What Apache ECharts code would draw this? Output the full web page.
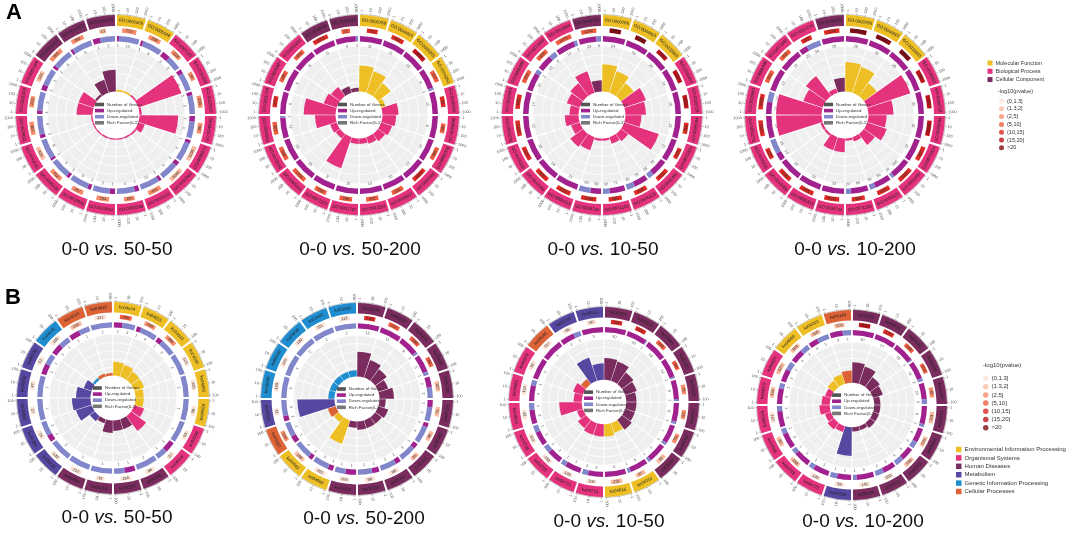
<!DOCTYPE html>
<html>
<head>
<meta charset="utf-8">
<script src="https://cdn.jsdelivr.net/npm/echarts@6/dist/echarts.min.js"></script>
<style>
  html, body { margin: 0; padding: 0; background: #fff; }
  #chart { width: 1072px; height: 534px; }
</style>
</head>
<body>
<div id="chart"></div>
<script>
// ---------- data ----------
const A_CLASSES = ['Molecular Function', 'Biological Process', 'Cellular Component'];
const B_CLASSES = ['Environmental Information Processing', 'Organismal Systems', 'Human Diseases',
  'Metabolism', 'Genetic Information Processing', 'Cellular Processes'];
const PVALUE_BINS = ['(0,1.3]', '(1.3,2]', '(2,5]', '(5,10]', '(10,15]', '(15,20]', '>20'];
const A_TICKS = ['1', '10', '100', '1000'];
const B_TICKS = ['1', '10', '100'];
const CENTER_LEGEND = ['Number of Genes', 'Up-regulated', 'Down-regulated', 'Rich Factor(0-1)'];

// A1: 0-0 vs. 50-50 (GO)
const A1_IDS = ['GO:0005509','GO:0005539','GO:0007155','GO:0030198','GO:0022610','GO:0043062','GO:0030574','GO:0032963','GO:0001501','GO:0060348','GO:0010631','GO:0010035','GO:0006132','GO:0042060','GO:0009611','GO:0001503','GO:0007160','GO:0031012','GO:0044420','GO:0005578'];
const A1_CLASS = [0,0,1,1,1,1,1,1,1,1,1,1,1,1,1,1,1,2,2,2];
const A1_BG = [723,298,128,36,235,96,1295,1049,444,106,294,257,412,416,367,133,122,960,392,13];
const A1_PV = [2,2,2,2,2,2,1,1,2,2,2,2,2,1,2,2,1,2,2,1];
const A1_UP = [1,1,3,1,1,1,1,1,2,1,1,1,1,1,1,1,1,1,1,1];
const A1_DOWN = [10,8,5,4,5,3,6,4,12,4,3,5,6,8,5,5,3,6,8,2];
const A1_RICH = [0.04,0.04,0.04,1.0,0.05,0.85,0.15,0.04,0.03,0.03,0.03,0.03,0.03,0.03,0.03,0.35,0.35,0.05,0.3,0.48];

// A2: 0-0 vs. 50-200 (GO)
const A2_IDS = ['GO:0005788','GO:0044815','GO:0005201','GO:0004252','GO:0006955','GO:0050896','GO:0002376','GO:0006952','GO:0009607','GO:0043207','GO:0051707','GO:0071103','GO:0065004','GO:0002684','GO:0006954','GO:0051704','GO:0045087','GO:0002682','GO:0048046','GO:0005615'];
const A2_CLASS = [0,0,0,0,1,1,1,1,1,1,1,1,1,1,1,1,1,1,2,2];
const A2_BG = [111,336,869,207,95,58,385,1063,236,242,299,259,1455,596,301,127,180,186,1573,32];
const A2_PV = [4,4,5,3,4,3,3,4,3,3,3,3,3,3,3,4,3,3,4,3];
const A2_UP = [11,11,10,9,10,8,10,12,10,10,10,8,10,10,12,6,9,8,11,9];
const A2_DOWN = [0,0,0,1,0,0,0,0,0,0,0,0,0,0,1,0,0,0,0,1];
const A2_RICH = [0.57,0.5,0.35,0.1,0.35,0.3,0.25,0.2,0.15,0.12,0.12,0.72,0.12,0.15,0.45,0.7,0.3,0.25,0.15,0.08];

// A3: 0-0 vs. 10-50 (GO)
const A3_IDS = ['GO:0000786','GO:0044815','GO:0032993','GO:0006334','GO:0034728','GO:0065004','GO:0071824','GO:0031497','GO:0006323','GO:0071103','GO:0034724','GO:0006333','GO:0043486','GO:0006325','GO:0051276','GO:0016043','GO:0006996','GO:0071840','GO:0050896','GO:0048592'];
const A3_CLASS = [0,0,0,1,1,1,1,1,1,1,1,1,1,1,1,1,1,1,1,2];
const A3_BG = [151,136,238,412,412,118,126,520,418,396,1256,1031,845,630,1455,820,452,318,2470,1262];
const A3_PV = [6,6,5,5,5,4,4,4,4,4,4,4,4,4,4,4,3,3,3,3];
const A3_UP = [24,24,26,14,16,12,13,76,79,71,58,21,14,16,12,14,13,13,12,23];
const A3_DOWN = [0,0,0,0,0,0,0,25,45,30,63,0,0,0,0,0,3,6,2,6];
const A3_RICH = [0.6,0.5,0.35,0.5,0.45,0.35,0.8,0.2,0.15,0.05,0.05,0.3,0.35,0.2,0.3,0.2,0.3,0.35,0.5,0.25];

// A4: 0-0 vs. 10-200 (GO)
const A4_IDS = ['GO:0000786','GO:0044815','GO:0032993','GO:0006334','GO:0034728','GO:0065004','GO:0071824','GO:0031497','GO:0006323','GO:0071103','GO:0034724','GO:0006333','GO:0043486','GO:0006325','GO:0051276','GO:0016043','GO:0006996','GO:0071840','GO:0051704','GO:0048592'];
const A4_CLASS = [0,0,0,1,1,1,1,1,1,1,1,1,1,1,1,1,1,1,1,2];
const A4_BG = [2470,1575,320,386,412,1256,860,1455,420,395,1031,845,630,120,1620,1430,352,311,126,1262];
const A4_PV = [6,6,6,5,5,5,4,4,4,4,4,4,4,4,4,4,3,3,4,4];
const A4_UP = [28,26,29,22,20,16,18,100,90,69,22,23,18,14,14,12,12,72,20,28];
const A4_DOWN = [0,0,0,0,0,0,0,14,30,20,0,0,0,25,0,10,0,0,34,0];
const A4_RICH = [0.65,0.6,0.35,1.0,0.55,0.4,0.45,0.3,0.1,0.05,0.3,0.3,0.05,0.05,1.0,1.0,0.45,0.55,0.1,0.3];

// B1: 0-0 vs. 50-50 (KEGG)
const B1_IDS = ['ko04514','ko04015','ko04010','ko04080','ko04060','ko04020','ko04530','ko04974','ko05200','ko05224','ko05219','ko05205','ko00230','ko00260','ko00480','ko00330','ko00190','ko04141','ko04510','ko04810'];
const B1_CLASS = [0,0,0,0,0,0,1,1,2,2,2,2,3,3,3,3,3,4,5,5];
const B1_BG = [250,208,306,121,135,96,93,37,96,156,42,212,133,75,27,47,51,180,235,221];
const B1_PV = [3,2,2,0,0,0,0,0,0,0,0,0,0,0,0,0,0,0,1,0];
const B1_UP = [2,1,1,0,0,0,0,1,0,1,0,0,0,1,0,0,1,1,1,0];
const B1_DOWN = [3,4,3,2,2,1,1,1,2,1,1,2,2,2,1,1,1,1,1,2];
const B1_RICH = [0.33,0.3,0.25,0.25,0.2,0.2,0.25,0.45,0.25,0.25,0.3,0.1,0.15,0.4,0.45,0.35,0.2,0.06,0.08,0.06];

// B2: 0-0 vs. 50-200 (KEGG)
const B2_IDS = ['ko05206','ko05202','ko05203','ko05168','ko05166','ko05165','ko05162','ko05161','ko05160','ko05146','ko05100','ko04060','ko04062','ko04110','ko00240','ko03030','ko03410','ko03430','ko03460','ko03440'];
const B2_CLASS = [2,2,2,2,2,2,2,2,2,2,2,0,0,5,3,4,4,4,4,4];
const B2_BG = [160,212,188,90,100,75,96,36,98,99,106,201,196,130,11,109,120,130,111,113];
const B2_PV = [4,3,3,3,1,1,1,1,0,0,0,0,1,2,0,0,0,0,0,0];
const B2_UP = [12,11,9,5,2,1,1,1,1,1,1,1,1,1,1,0,0,0,0,0];
const B2_DOWN = [0,0,1,1,2,2,4,3,3,2,1,3,4,2,3,3,3,2,2,2];
const B2_RICH = [0.6,0.45,0.35,0.25,0.35,0.15,0.25,0.2,0.2,0.2,0.15,0.6,0.15,0.2,0.9,0.15,0.15,0.15,0.15,0.15];

// B3: 0-0 vs. 10-50 (KEGG)
const B3_IDS = ['ko05034','ko05033','ko05031','ko05030','ko05022','ko05017','ko05016','ko05014','ko04010','ko04015','ko04713','ko04723','ko04725','ko04728','ko04921','ko04925','ko04970','ko04140','ko00230','ko00511'];
const B3_CLASS = [2,2,2,2,2,2,2,2,0,0,1,1,1,1,1,1,1,5,3,3];
const B3_BG = [186,161,142,68,76,52,73,95,97,236,106,135,133,101,81,132,92,117,65,80];
const B3_PV = [4,4,3,3,2,2,2,1,1,1,0,0,0,0,0,0,0,0,0,0];
const B3_UP = [20,20,14,12,9,8,7,7,6,6,5,3,2,2,2,3,2,1,2,3];
const B3_DOWN = [0,1,0,1,1,1,1,1,1,0,2,1,1,1,1,1,0,0,1,0];
const B3_RICH = [0.53,0.5,0.35,0.3,0.25,0.25,0.25,0.3,0.25,0.3,0.3,0.3,0.25,0.15,0.55,0.2,0.25,0.15,0.6,0.4];

// B4: 0-0 vs. 10-200 (KEGG)
const B4_IDS = ['ko05032','ko05034','ko05031','ko05030','ko05033','ko05014','ko05016','ko05022','ko05012','ko05164','ko00190','ko04723','ko04728','ko04925','ko04970','ko04072','ko04024','ko04080','ko04020','ko04140'];
const B4_CLASS = [2,2,2,2,2,2,2,2,2,2,3,1,1,1,1,1,1,0,0,5];
const B4_BG = [203,176,140,103,95,201,131,133,100,142,58,130,158,86,120,131,320,108,116,100];
const B4_PV = [5,4,3,3,2,1,1,1,0,0,0,0,1,1,0,1,1,1,1,1];
const B4_UP = [30,27,18,12,10,6,4,6,3,5,2,3,3,3,3,3,3,3,4,3];
const B4_DOWN = [0,0,1,2,3,1,2,4,2,1,1,1,1,1,1,1,2,2,5,2];
const B4_RICH = [0.5,0.45,0.3,0.25,0.15,0.15,0.15,0.15,0.1,0.1,0.7,0.15,0.2,0.15,0.25,0.2,0.15,0.2,0.25,0.3];

// ---------- styles ----------
const FONT = 'Liberation Sans';
const A_COLORS = ['#EDBF24', '#E4327D', '#7B2C5F'];
const B_COLORS = ['#EDBF24', '#E4327D', '#7B2C5F', '#5747A1', '#1F8DCF', '#DD6236'];
const PV_COLORS = ['#FDE3D6', '#FBBBA0', '#F88D6B', '#F05E41', '#DE2A24', '#BD1319', '#820B12'];
const UP_COLOR = '#A1218E';
const DOWN_COLOR = '#8286CA';
const GRAY = '#EFEFEF';
const GAP = 0.08;   // gap between sectors, in sector units

const CIRCLES = [
  { ids: A1_IDS, cls: A1_CLASS, bg: A1_BG, pv: A1_PV, up: A1_UP, down: A1_DOWN, rich: A1_RICH, panel: 'A', cmp: '50-50',  cx: 116, cy: 115, R: 100, capX: 117, capY: 240 },
  { ids: A2_IDS, cls: A2_CLASS, bg: A2_BG, pv: A2_PV, up: A2_UP, down: A2_DOWN, rich: A2_RICH, panel: 'A', cmp: '50-200', cx: 359, cy: 115, R: 100, capX: 360, capY: 240 },
  { ids: A3_IDS, cls: A3_CLASS, bg: A3_BG, pv: A3_PV, up: A3_UP, down: A3_DOWN, rich: A3_RICH, panel: 'A', cmp: '10-50',  cx: 602, cy: 115, R: 100, capX: 603, capY: 240 },
  { ids: A4_IDS, cls: A4_CLASS, bg: A4_BG, pv: A4_PV, up: A4_UP, down: A4_DOWN, rich: A4_RICH, panel: 'A', cmp: '10-200', cx: 845, cy: 115, R: 100, capX: 855, capY: 240 },
  { ids: B1_IDS, cls: B1_CLASS, bg: B1_BG, pv: B1_PV, up: B1_UP, down: B1_DOWN, rich: B1_RICH, panel: 'B', cmp: '50-50',  cx: 113, cy: 398, R: 96, capX: 117, capY: 508 },
  { ids: B2_IDS, cls: B2_CLASS, bg: B2_BG, pv: B2_PV, up: B2_UP, down: B2_DOWN, rich: B2_RICH, panel: 'B', cmp: '50-200', cx: 357, cy: 399, R: 96, capX: 364, capY: 509 },
  { ids: B3_IDS, cls: B3_CLASS, bg: B3_BG, pv: B3_PV, up: B3_UP, down: B3_DOWN, rich: B3_RICH, panel: 'B', cmp: '10-50',  cx: 604, cy: 402, R: 95, capX: 609, capY: 512 },
  { ids: B4_IDS, cls: B4_CLASS, bg: B4_BG, pv: B4_PV, up: B4_UP, down: B4_DOWN, rich: B4_RICH, panel: 'B', cmp: '10-200', cx: 852, cy: 405, R: 95, capX: 863, capY: 512 }
];

// ---------- geometry helpers for custom series ----------
function screenAngle(cs, p) {
  return Math.atan2(p[1] - cs.cy, p[0] - cs.cx);
}

function arcAngles(api, cs, from, to) {
  const a0 = screenAngle(cs, api.coord([1, from]));
  let a1 = screenAngle(cs, api.coord([1, to]));
  if (a1 < a0) a1 += Math.PI * 2;
  return [a0, a1];
}

function normAngle(r) {
  while (r > Math.PI) r -= 2 * Math.PI;
  while (r <= -Math.PI) r += 2 * Math.PI;
  return r;
}

// text running along the arc, never upside down
function tangentRot(phi) {
  let r = normAngle(-(phi + Math.PI / 2));
  if (r > Math.PI / 2 + 1e-6) r -= Math.PI;
  else if (r < -Math.PI / 2 - 1e-6) r += Math.PI;
  return r;
}

// text running outwards along the radius
function radialRot(phi) {
  let r = normAngle(-phi);
  if (r > Math.PI / 2 + 1e-6) return { rot: r - Math.PI, align: 'right' };
  if (r < -Math.PI / 2 - 1e-6) return { rot: r + Math.PI, align: 'right' };
  return { rot: r, align: 'left' };
}

function smallText(x, y, rotation, text, size, fill, align) {
  return {
    type: 'text', x, y, rotation,
    style: { text, fontSize: size, fontFamily: FONT, fill, align: align || 'center', verticalAlign: 'middle' }
  };
}

function tickRender(labels) {
  return function (params, api) {
    const cs = params.coordSys;
    const i = api.value(0);
    const s0 = i + GAP / 2, s1 = i + 1 - GAP / 2;
    const [a0, a1] = arcAngles(api, cs, s0, s1);
    const children = [{
      type: 'arc',
      shape: { cx: cs.cx, cy: cs.cy, r: cs.r0, startAngle: a0, endAngle: a1, clockwise: true },
      style: { stroke: '#888', lineWidth: 0.5, fill: 'none' }
    }];
    labels.forEach((t, k) => {
      const v = s0 + 0.05 + (s1 - s0 - 0.1) * k / (labels.length - 1);
      const p0 = api.coord([0, v]), p1 = api.coord([1, v]), pt = api.coord([1.5, v]);
      children.push({
        type: 'line',
        shape: { x1: p0[0], y1: p0[1], x2: p1[0], y2: p1[1] },
        style: { stroke: '#888', lineWidth: 0.5 }
      });
      const rr = radialRot(screenAngle(cs, pt));
      children.push(smallText(pt[0], pt[1], rr.rot, t, 3.8, '#555', rr.align));
    });
    return { type: 'group', children };
  };
}

function pvalRender(params, api) {
  const cs = params.coordSys;
  const i = api.value(0), b = api.value(1), k = api.value(2);
  const w = Math.min(0.85, 0.16 * Math.log10(b) + 0.08);
  const [a0, a1] = arcAngles(api, cs, i + 0.5 - w / 2, i + 0.5 + w / 2);
  const mid = api.coord([0.5, i + 0.5]);
  return {
    type: 'group',
    children: [
      {
        type: 'sector',
        shape: { cx: cs.cx, cy: cs.cy, r0: cs.r0, r: cs.r, startAngle: a0, endAngle: a1, clockwise: true },
        style: { fill: PV_COLORS[k] }
      },
      smallText(mid[0], mid[1], tangentRot(screenAngle(cs, mid)), String(b), 4, '#333')
    ]
  };
}

function upDownRender(isUp) {
  return function (params, api) {
    const cs = params.coordSys;
    const i = api.value(0), u = api.value(1), d = api.value(2);
    const n = isUp ? u : d;
    if (!(n > 0)) return null;
    const s0 = i + GAP / 2, span = 1 - GAP;
    const sU = s0 + span * u / (u + d);
    const from = isUp ? s0 : sU;
    const to = isUp ? sU : s0 + span;
    const [a0, a1] = arcAngles(api, cs, from, to);
    const mid = api.coord([-0.75, (from + to) / 2]);
    return {
      type: 'group',
      children: [
        {
          type: 'sector',
          shape: { cx: cs.cx, cy: cs.cy, r0: cs.r0, r: cs.r, startAngle: a0, endAngle: a1, clockwise: true },
          style: { fill: isUp ? UP_COLOR : DOWN_COLOR }
        },
        smallText(mid[0], mid[1], tangentRot(screenAngle(cs, mid)), String(n), 3.8, '#555')
      ]
    };
  };
}

// ---------- option ----------
const option = {
  animation: false,
  backgroundColor: '#fff',
  polar: [], angleAxis: [], radiusAxis: [],
  series: [], legend: [], title: []
};

const hidden = { axisLine: { show: false }, axisTick: { show: false }, axisLabel: { show: false }, splitLine: { show: false } };

function addPolar(c, r0, r1, angleCategory, radiusOpts, angleOpts) {
  const idx = option.polar.length;
  option.polar.push({ center: [c.cx, c.cy], radius: [r0, r1] });
  const ang = Object.assign({ polarIndex: idx, startAngle: 90, clockwise: true, z: 1 }, hidden);
  if (angleCategory) {
    ang.type = 'category';
    ang.data = c.ids;
    ang.boundaryGap = true;
  } else {
    ang.type = 'value';
    ang.min = 0;
    ang.max = c.ids.length;
  }
  option.angleAxis.push(Object.assign(ang, angleOpts || {}));
  option.radiusAxis.push(Object.assign({ polarIndex: idx, type: 'value', min: 0, max: 1, z: 1 }, hidden, radiusOpts || {}));
  return idx;
}

CIRCLES.forEach((c) => {
  const isA = c.panel === 'A';
  const classes = isA ? A_CLASSES : B_CLASSES;
  const colors = isA ? A_COLORS : B_COLORS;
  const R = c.R;
  const grayOuter = (isA ? 0.69 : 0.665) * R;
  const inner = 0.235 * R;

  // grey disc behind the rich-factor bars
  addPolar(c, inner, grayOuter, true,
    { z: 0, splitArea: { show: true, areaStyle: { color: [GRAY] } } }, { z: 0 });

  // rich factor bars with white grid on top of the disc
  const pRich = addPolar(c, inner, grayOuter, true,
    { interval: 0.2, splitLine: { show: true, lineStyle: { color: '#fff', width: 0.8 } } },
    { splitLine: { show: true, lineStyle: { color: '#fff', width: 1.2 } } });
  option.series.push({
    type: 'bar', name: CENTER_LEGEND[3], coordinateSystem: 'polar', polarIndex: pRich,
    barCategoryGap: '5%', itemStyle: { color: '#777' },
    data: c.rich.map((v, i) => ({ value: v, itemStyle: { color: colors[c.cls[i]] } }))
  });

  // up / down regulated ring
  const pUD = addPolar(c, 0.735 * R, 0.79 * R, false);
  const udData = c.up.map((u, i) => [i, u, c.down[i]]);
  option.series.push({
    type: 'custom', name: CENTER_LEGEND[1], coordinateSystem: 'polar', polarIndex: pUD,
    itemStyle: { color: UP_COLOR }, renderItem: upDownRender(true), data: udData
  });
  option.series.push({
    type: 'custom', name: CENTER_LEGEND[2], coordinateSystem: 'polar', polarIndex: pUD,
    itemStyle: { color: DOWN_COLOR }, renderItem: upDownRender(false), data: udData
  });

  // number of genes ring coloured by -log10(pvalue)
  const pPv = addPolar(c, 0.825 * R, 0.87 * R, false);
  option.series.push({
    type: 'custom', name: CENTER_LEGEND[0], coordinateSystem: 'polar', polarIndex: pPv,
    itemStyle: { color: '#555' }, renderItem: pvalRender,
    data: c.bg.map((b, i) => [i, b, c.pv[i]])
  });

  // outer class ring with term IDs
  const pCls = addPolar(c, 0.89 * R, R, true);
  classes.forEach((name, k) => {
    if (!c.cls.includes(k)) return;
    option.series.push({
      type: 'bar', name, coordinateSystem: 'polar', polarIndex: pCls,
      barGap: '-100%', barCategoryGap: '7%',
      itemStyle: { color: colors[k] },
      label: {
        show: true, position: 'middle', fontSize: 4.3, fontFamily: FONT, color: '#222',
        formatter: (p) => c.ids[p.dataIndex]
      },
      data: c.cls.map((k2) => (k2 === k ? 1 : null))
    });
  });

  // per-sector scale outside the ring
  const pTick = addPolar(c, R + 0.6, R + 2.4, false);
  option.series.push({
    type: 'custom', coordinateSystem: 'polar', polarIndex: pTick, silent: true,
    renderItem: tickRender(isA ? A_TICKS : B_TICKS),
    data: c.ids.map((_, i) => [i])
  });

  // legend in the centre
  option.legend.push({
    orient: 'vertical', left: c.cx - 0.21 * R, top: c.cy - 0.125 * R, padding: 0,
    itemWidth: 9, itemHeight: 3.6, itemGap: 2.1, icon: 'rect', selectedMode: false,
    textStyle: { fontSize: 4.4, fontFamily: FONT, color: '#333', padding: [0, 0, 0, -2] },
    data: CENTER_LEGEND
  });

  // caption
  option.title.push({
    text: '{n|0-0 }{i|vs.}{n| ' + c.cmp + '}',
    left: c.capX, top: c.capY, textAlign: 'center', padding: 0,
    textStyle: {
      fontWeight: 'normal',
      rich: {
        n: { fontSize: 19, fontFamily: FONT, fontWeight: 'normal', color: '#111' },
        i: { fontSize: 19, fontFamily: FONT, fontWeight: 'normal', fontStyle: 'italic', color: '#111' }
      }
    }
  });
});

// dummy series so the p-value bins get legend entries
PVALUE_BINS.forEach((name, k) => {
  option.series.push({
    type: 'scatter', name, coordinateSystem: 'polar', polarIndex: 0,
    itemStyle: { color: PV_COLORS[k] }, data: []
  });
});

// panel letters and legend headings
option.title.push(
  { text: 'A', left: 6, top: 2, padding: 0, textStyle: { fontSize: 22, fontWeight: 'bold', fontFamily: FONT, color: '#000' } },
  { text: 'B', left: 5, top: 287, padding: 0, textStyle: { fontSize: 22, fontWeight: 'bold', fontFamily: FONT, color: '#000' } },
  { text: '-log10(pvalue)', left: 998, top: 88, padding: 0, textStyle: { fontSize: 5.5, fontWeight: 'normal', fontFamily: FONT, color: '#333' } },
  { text: '-log10(pvalue)', left: 983, top: 362.5, padding: 0, textStyle: { fontSize: 6, fontWeight: 'normal', fontFamily: FONT, color: '#333' } }
);

// right-hand legends
const legendText = (size) => ({ fontSize: size, fontFamily: FONT, color: '#333', padding: [0, 0, 0, -2] });
option.legend.push(
  { orient: 'vertical', left: 987.5, top: 60, padding: 0, itemWidth: 5, itemHeight: 5, itemGap: 2.3,
    icon: 'rect', selectedMode: false, textStyle: legendText(5.5), data: A_CLASSES },
  { orient: 'vertical', left: 999, top: 98, padding: 0, itemWidth: 5, itemHeight: 5, itemGap: 1.8,
    icon: 'circle', selectedMode: false, textStyle: legendText(5.5), data: PVALUE_BINS },
  { orient: 'vertical', left: 983, top: 375.5, padding: 0, itemWidth: 5.5, itemHeight: 5.5, itemGap: 2.2,
    icon: 'circle', selectedMode: false, textStyle: legendText(6), data: PVALUE_BINS },
  { orient: 'vertical', left: 956, top: 446.5, padding: 0, itemWidth: 5.5, itemHeight: 5.5, itemGap: 2.4,
    icon: 'rect', selectedMode: false, textStyle: legendText(6), data: B_CLASSES }
);

const chart = echarts.init(document.getElementById('chart'), null, { renderer: 'canvas' });
chart.setOption(option);
</script>
</body>
</html>
